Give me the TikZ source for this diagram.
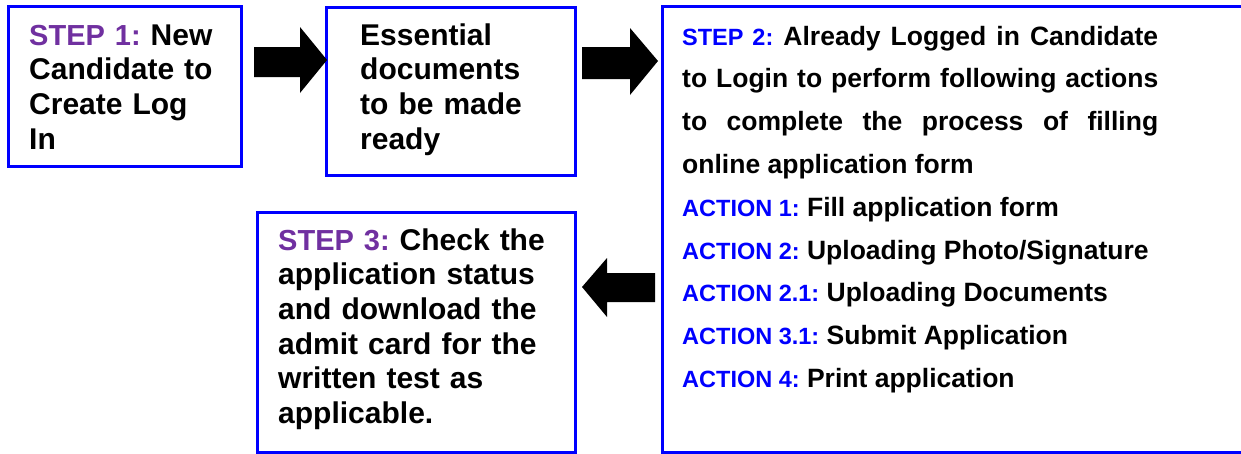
\documentclass[tikz,border=0pt]{standalone}
\usepackage{fontspec}
\setmainfont{Liberation Sans}
\frenchspacing
\definecolor{stepblue}{HTML}{0000FF}
\definecolor{steppurple}{HTML}{7030A0}
\newcommand{\purplelbl}[1]{{\color{steppurple}\fontsize{29}{34.7}\selectfont #1}}
\newcommand{\bluelbl}[1]{{\color{stepblue}\fontsize{23.5}{42.8}\selectfont #1}}
\begin{document}
\begin{tikzpicture}[x=1pt,y=-1pt,
  boxframe/.style={draw=stepblue, line width=3pt},
  boxtext/.style={anchor=base west, inner sep=0pt, text width=#1, align=left,
    font=\bfseries\frenchspacing\fontsize{30}{34.7}\selectfont},
  longtext/.style={anchor=base west, inner sep=0pt, text width=#1, align=justify,
    font=\bfseries\frenchspacing\fontsize{26.5}{42.8}\selectfont},
  blockarrow/.style={fill=black}]
\useasboundingbox (0,0) rectangle (1241,453);
\clip (0,0) rectangle (1241,453);
% frames
\draw[boxframe] (8,6) rectangle (241,166);
\node[inner sep=0pt, minimum width=233pt, minimum height=160pt, anchor=north west] (b1) at (8,6) {};
\draw[boxframe] (326,7) rectangle (575,175);
\node[inner sep=0pt, minimum width=249pt, minimum height=168pt, anchor=north west] (b2) at (326,7) {};
\draw[boxframe] (662,6) rectangle (1260,452);
\node[inner sep=0pt, minimum width=598pt, minimum height=446pt, anchor=north west] (b3) at (662,6) {};
\draw[boxframe] (257,212) rectangle (575,452);
\node[inner sep=0pt, minimum width=318pt, minimum height=240pt, anchor=north west] (b4) at (257,212) {};
% texts
\node[boxtext=212pt] (t1) at (29,45) {\purplelbl{STEP 1:} New\\Candidate to\\Create Log\\In};
\node[boxtext=212pt] (t2) at (360,45) {Essential\\documents\\to be made\\ready};
\node[boxtext=290pt] (t4) at (278,250) {\purplelbl{STEP 3:} Check the\\application status\\and download the\\admit card for the\\written test as\\applicable.};
\node[longtext=476pt] (t3) at (682,45) {\tolerance=10000\hyphenpenalty=10000
  \bluelbl{STEP 2:} Already Logged in Candidate\linebreak
  to Login to perform following actions\linebreak
  to complete the process of filling\linebreak
  online application form\par
  \bluelbl{ACTION 1:} Fill application form\par
  \bluelbl{ACTION 2:} Uploading Photo/Signature\par
  \bluelbl{ACTION 2.1:} Uploading Documents\par
  \bluelbl{ACTION 3.1:} Submit Application\par
  \bluelbl{ACTION 4:} Print application\par};
% block arrows
\fill[blockarrow] (254,47) -- (300,47) -- (300,27) -- (327,60) -- (300,93) -- (300,77) -- (254,77) -- cycle;
\fill[blockarrow] (582,47) -- (630,47) -- (630,28) -- (658,61) -- (630,95) -- (630,79) -- (582,79) -- cycle;
\fill[blockarrow] (655,273) -- (607,273) -- (607,258) -- (582,287) -- (607,317) -- (607,302) -- (655,302) -- cycle;
\end{tikzpicture}
\end{document}
